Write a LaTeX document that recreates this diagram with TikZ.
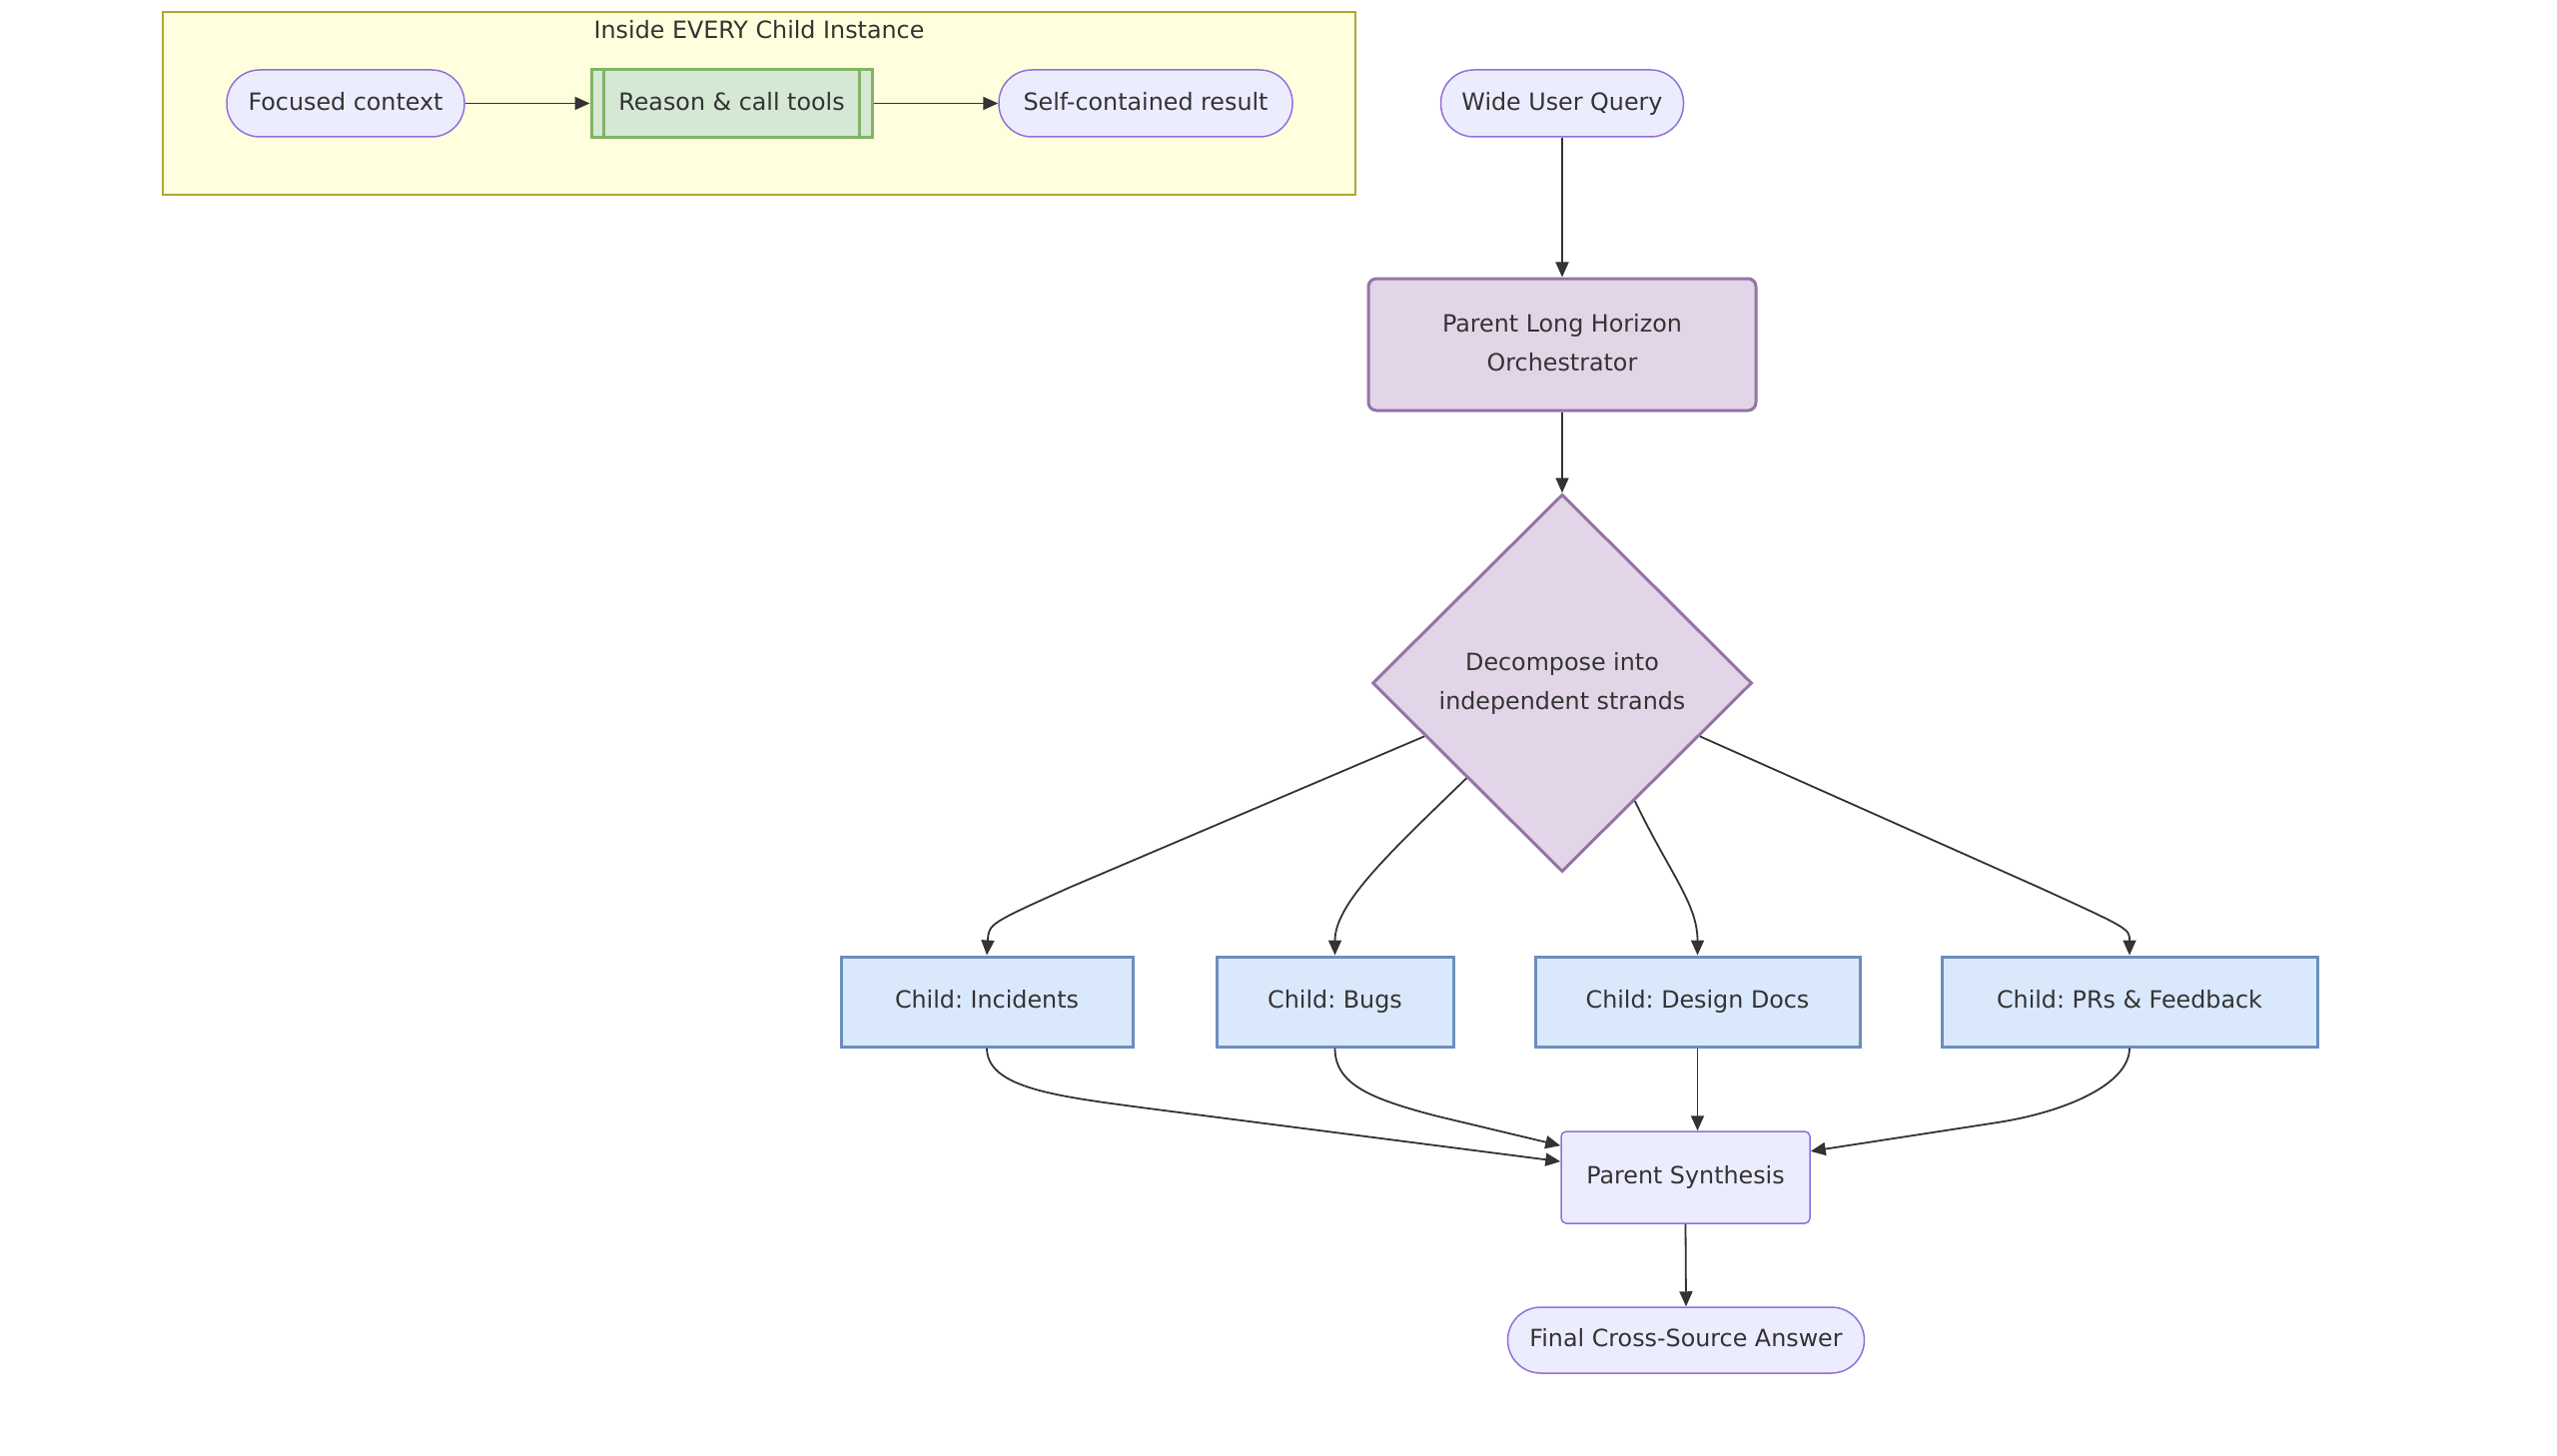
\documentclass[tikz,border=0pt]{standalone}
\usepackage{fontspec}
\setmainfont{DejaVu Sans}
\usetikzlibrary{shapes.geometric,arrows.meta,calc}
\definecolor{txt}{HTML}{333333}
\definecolor{stadfill}{HTML}{ECECFF}
\definecolor{stadline}{HTML}{9370DB}
\definecolor{sgfill}{HTML}{FFFFDE}
\definecolor{sgline}{HTML}{AAAA33}
\definecolor{grfill}{HTML}{D5E8D4}
\definecolor{grline}{HTML}{82B366}
\definecolor{pufill}{HTML}{E1D5E7}
\definecolor{puline}{HTML}{9673A6}
\definecolor{blfill}{HTML}{DAE8FC}
\definecolor{blline}{HTML}{6C8EBF}
\newcommand{\mystrut}{\rule[-5pt]{0pt}{21.5pt}}
\frenchspacing
\begin{document}
\begin{tikzpicture}[x=1pt,y=-1pt,
  font=\fontsize{23.8}{39}\selectfont\frenchspacing,
  base/.style={inner sep=0pt, align=center, text=txt},
  stad/.style={base, draw=stadline, fill=stadfill, line width=1.5pt, rounded corners=33pt, minimum height=67pt},
  subr/.style={base, draw=grline, fill=grfill, line width=3pt, minimum height=68pt},
  purp/.style={base, draw=puline, fill=pufill, line width=3pt},
  child/.style={base, draw=blline, fill=blfill, line width=3pt, minimum height=90pt},
  plain/.style={base, draw=stadline, fill=stadfill, line width=1.5pt, rounded corners=5pt},
  edge/.style={draw=txt, line width=1.8pt, -{Triangle[length=15pt,width=13pt]}}
]
\useasboundingbox (0,0) rectangle (2560,1458);
\fill[white] (0,0) rectangle (2560,1458);

% subgraph
\node[draw=sgline, fill=sgfill, line width=1.5pt, minimum width=1194pt, minimum height=183pt, inner sep=0pt] (sg) at (760,103.5) {};
\node[base] (sgt) at (760,32) {\mystrut Inside EVERY Child Instance};

\node[stad, minimum width=238pt] (fc) at (346,103.5) {\mystrut Focused context};
\node[subr, minimum width=281pt] (rc) at (732.5,103.5) {\mystrut Reason \& call tools};
\draw[grline, line width=3pt] ([xshift=14pt]rc.north west) -- ([xshift=14pt]rc.south west);
\draw[grline, line width=3pt] ([xshift=-14pt]rc.north east) -- ([xshift=-14pt]rc.south east);
\node[stad, minimum width=294pt] (sc) at (1147,103.5) {\mystrut Self-contained result};

\node[stad, minimum width=243pt] (wuq) at (1564,103.5) {\mystrut Wide User Query};
\node[purp, rounded corners=8pt, minimum width=388pt, minimum height=132pt] (orch) at (1564,345) {\mystrut Parent Long Horizon\\Orchestrator\mystrut};
\node[purp, diamond, minimum width=380pt, minimum height=378pt] (dia) at (1564,684) {\mystrut Decompose into\\independent strands\mystrut};

\node[child, minimum width=292pt] (inc) at (988,1003) {\mystrut Child: Incidents};
\node[child, minimum width=237pt] (bugs) at (1336.5,1003) {\mystrut Child: Bugs};
\node[child, minimum width=325pt] (dd) at (1699.5,1003) {\mystrut Child: Design Docs};
\node[child, minimum width=376pt] (prs) at (2132,1003) {\mystrut Child: PRs \& Feedback};

\node[plain, minimum width=249pt, minimum height=92pt] (synth) at (1687.5,1179) {\mystrut Parent Synthesis};
\node[stad, minimum width=357pt, minimum height=66pt] (final) at (1688,1342) {\mystrut Final Cross-Source Answer};

% edges
\draw[edge] (fc.east) -- (rc.west);
\draw[edge] (rc.east) -- (sc.west);
\draw[edge] (wuq.south) -- (orch.north);
\draw[edge] (orch.south) -- (dia.north);

\draw[edge] ($(dia.west)!0.28!(dia.south)$) -- (1070,889) .. controls (990,925) .. (inc.north);
\draw[edge] ($(dia.west)!0.5!(dia.south)$) .. controls (1390,855) and (1336.5,905) .. (bugs.north);
\draw[edge] ($(dia.south)!0.38!(dia.east)$) .. controls (1672,875) and (1699.5,905) .. (dd.north);
\draw[edge] ($(dia.south)!0.72!(dia.east)$) -- (2040,888) .. controls (2132,930) .. (prs.north);

\draw[edge] (inc.south) .. controls (988,1090) and (1060,1098) .. (1150,1110) -- ($(synth.north west)!0.33!(synth.south west)$);
\draw[edge] (bugs.south) .. controls (1336.5,1085) and (1370,1100) .. (1440,1118) -- ($(synth.north west)!0.16!(synth.south west)$);
\draw[edge] (dd.south) -- (dd.south |- synth.north);
\draw[edge] (prs.south) .. controls (2132,1085) and (2070,1113) .. (2000,1124) -- ($(synth.north east)!0.22!(synth.south east)$);
\draw[edge] (synth.south) -- (final.north);
\end{tikzpicture}
\end{document}
